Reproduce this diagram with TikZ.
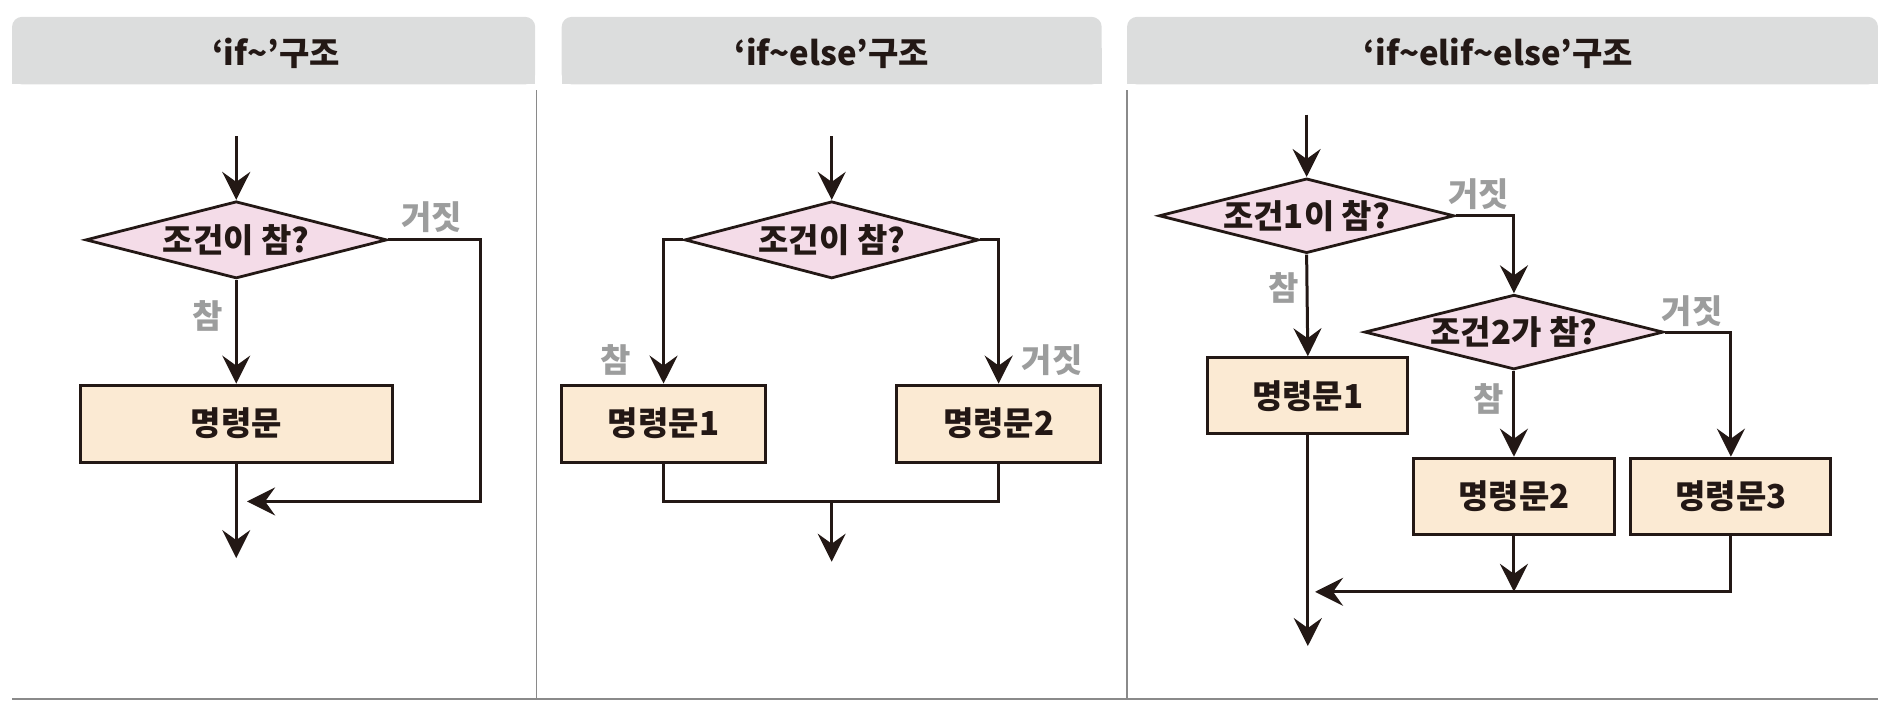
\documentclass[tikz,border=0pt]{standalone}
\usepackage{fontspec}
\setmainfont{Noto Sans CJK KR}
\usetikzlibrary{arrows.meta,shapes.geometric}
\definecolor{ln}{HTML}{231815}
\definecolor{pinkf}{HTML}{F4DCE8}
\definecolor{boxf}{HTML}{FBEAD3}
\definecolor{hdrf}{HTML}{DCDDDD}
\definecolor{lblg}{HTML}{9C9D9D}
\definecolor{sepg}{HTML}{8A8A8A}
\def\unitpx{0.6027pt}
\begin{document}
\begin{tikzpicture}[x=0.6027pt,y=-0.6027pt,
  txt/.style={font=\bfseries\fontsize{16.5}{18}\selectfont},
  flow/.style={draw=ln, line width=1.5pt},
  arr/.style={flow, -{Stealth[length=14pt,width=14pt,inset=5pt]}},
  dia/.style={diamond, aspect=4, inner sep=0pt, draw=ln, line width=1.4pt, fill=pinkf, txt, text=ln},
  proc/.style={rectangle, inner sep=0pt, draw=ln, line width=1.5pt, fill=boxf, txt, text=ln,
     minimum height=64*\unitpx},
  lbl/.style={txt, text=lblg, inner sep=0pt},
  hdr/.style={txt, text=ln, inner sep=0pt},
  sep/.style={draw=sepg, line width=0.8pt}]
\useasboundingbox (0,0) rectangle (1568,596);

% header bands
\fill[hdrf, rounded corners=5pt] (10,14) rectangle (444,70);
\fill[hdrf] (10,40) rectangle (444,70);
\fill[hdrf, rounded corners=5pt] (466,14) rectangle (914,70);
\fill[hdrf] (466,40) rectangle (914,70);
\fill[hdrf, rounded corners=5pt] (935,14) rectangle (1558,70);
\fill[hdrf] (935,40) rectangle (1558,70);
\node[hdr] (h1) at (229,44) {‘if\textasciitilde’구조};
\node[hdr] (h2) at (690,44) {‘if\textasciitilde else’구조};
\node[hdr] (h3) at (1243,44) {‘if\textasciitilde elif\textasciitilde else’구조};

% separators
\coordinate (s1a) at (445,75); \coordinate (s1b) at (445,580);
\coordinate (s2a) at (935,75); \coordinate (s2b) at (935,580);
\coordinate (bl) at (10,580); \coordinate (br) at (1558,580);
\draw[sep] (s1a) -- (s1b);
\draw[sep] (s2a) -- (s2b);
\draw[sep] (bl) -- (br);

% ---------- panel 1 ----------
\coordinate (in1) at (196,113);
\node[dia, minimum width=250*\unitpx, minimum height=64*\unitpx] (d1) at (196,199) {조건이 참?};
\node[proc, minimum width=259*\unitpx] (b1) at (196,351.5) {명령문};
\coordinate (f1) at (399,416);
\coordinate (f1e) at (205,416);
\coordinate (o1) at (196,463);
\draw[arr] (in1) -- (d1.north);
\draw[arr] (d1.south) -- (b1.north);
\draw[arr] (d1.east) -| (f1) -- (f1e);
\draw[arr] (b1.south) -- (o1);
\node[lbl] (l1f) at (358,180) {거짓};
\node[lbl] (l1t) at (172,262) {참};

% ---------- panel 2 ----------
\coordinate (in2) at (690,113);
\node[dia, minimum width=244*\unitpx, minimum height=64*\unitpx] (d2) at (690,199) {조건이 참?};
\node[proc, minimum width=169*\unitpx] (b21) at (550.5,351.5) {명령문1};
\node[proc, minimum width=169*\unitpx] (b22) at (828.5,351.5) {명령문2};
\coordinate (m2) at (690,416);
\coordinate (o2) at (690,466);
\draw[arr] (in2) -- (d2.north);
\draw[arr] (d2.west) -| (b21.north);
\draw[arr] (d2.east) -| (b22.north);
\draw[flow] (b21.south) |- (m2) -| (b22.south);
\draw[arr] (m2) -- (o2);
\node[lbl] (l2t) at (511,299) {참};
\node[lbl] (l2f) at (873,299) {거짓};

% ---------- panel 3 ----------
\coordinate (in3) at (1084,95);
\node[dia, minimum width=245*\unitpx, minimum height=62*\unitpx] (d31) at (1084,179) {조건1이 참?};
\node[dia, minimum width=248*\unitpx, minimum height=62*\unitpx] (d32) at (1256,275.5) {조건2가 참?};
\node[proc, minimum width=166*\unitpx, minimum height=63*\unitpx] (b31) at (1085,328.3) {명령문1};
\node[proc, minimum width=166*\unitpx, minimum height=63*\unitpx] (b32) at (1256,411.6) {명령문2};
\node[proc, minimum width=166*\unitpx, minimum height=63*\unitpx] (b33) at (1436,411.6) {명령문3};
\coordinate (m3) at (1256,491);
\coordinate (m3e) at (1091,491);
\coordinate (o3) at (1085,536);
\draw[arr] (in3) -- (d31.north);
\draw[arr] (d31.east) -| (d32.north);
\draw[arr] (d31.south) -- (b31.north);
\draw[arr] (d32.south) -- (b32.north);
\draw[arr] (d32.east) -| (b33.north);
\draw[arr] (b32.south) -- (m3);
\draw[arr] (b33.south) |- (m3e);
\draw[arr] (b31.south) -- (o3);
\node[lbl] (l3f1) at (1227,161) {거짓};
\node[lbl] (l3f2) at (1404,258) {거짓};
\node[lbl] (l3t1) at (1065,239) {참};
\node[lbl] (l3t2) at (1235,331) {참};
\end{tikzpicture}
\end{document}
